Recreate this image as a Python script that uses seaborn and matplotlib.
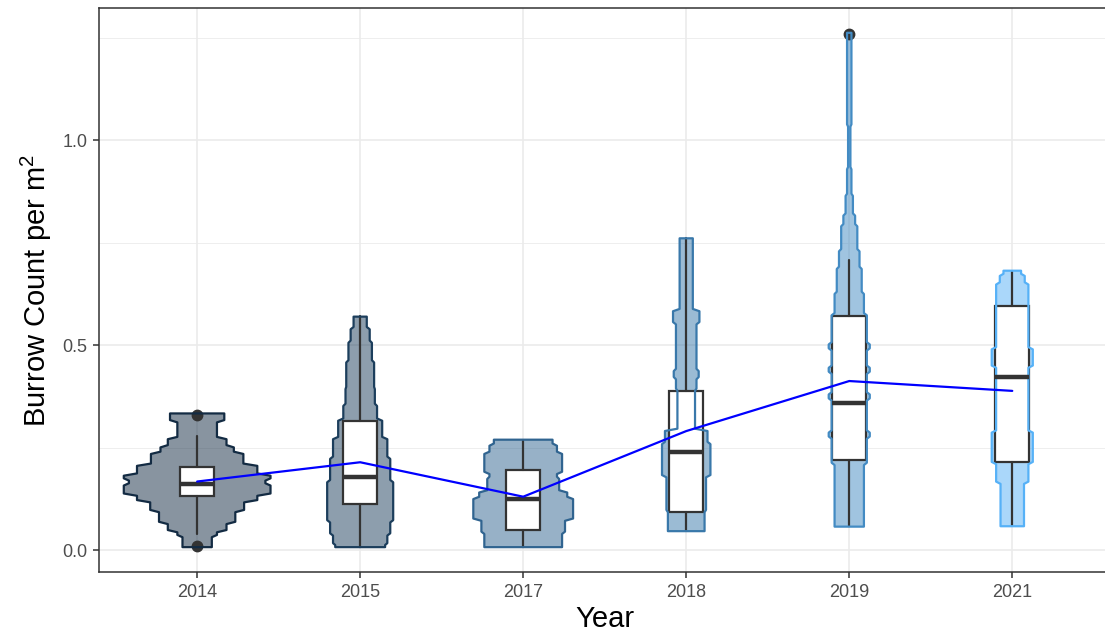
import matplotlib
matplotlib.use("Agg")
import matplotlib.pyplot as plt
from matplotlib.colors import LinearSegmentedColormap
import numpy as np
import seaborn as sns

# categories
years = [2014, 2015, 2017, 2018, 2019, 2021]

# box stats (burrows per m2)
q1 = [0.132, 0.1135, 0.049, 0.094, 0.221, 0.215]
med = [0.161, 0.179, 0.126, 0.240, 0.360, 0.422]
q3 = [0.203, 0.316, 0.197, 0.389, 0.572, 0.596]
whis_lo = [0.039, 0.009, 0.0105, 0.051, 0.059, 0.061]
whis_hi = [0.278, 0.572, 0.268, 0.761, 0.709, 0.680]
outliers = [[0.0105, 0.331], [], [], [], [1.26], []]

# yearly means (blue line)
means = [0.168, 0.215, 0.131, 0.291, 0.413, 0.389]

# violin profiles: bin edges and relative width (1 = widest violin)
edges_2014 = [0.008, 0.035, 0.047, 0.067, 0.096, 0.120, 0.136, 0.161, 0.173, 0.185,
              0.209, 0.238, 0.254, 0.274, 0.315, 0.334]
dens_2014 = [0.20, 0.27, 0.40, 0.52, 0.64, 0.82, 1.0, 0.93, 1.0, 0.82, 0.63, 0.50,
             0.40, 0.27, 0.37]
edges_2015 = [0.008, 0.015, 0.039, 0.071, 0.169, 0.226, 0.274, 0.319, 0.355, 0.396,
              0.461, 0.509, 0.542, 0.570]
dens_2015 = [0.34, 0.37, 0.41, 0.45, 0.41, 0.37, 0.30, 0.23, 0.20, 0.19, 0.16, 0.13, 0.09]
edges_2017 = [0.008, 0.043, 0.075, 0.128, 0.144, 0.177, 0.189, 0.238, 0.258, 0.270]
dens_2017 = [0.53, 0.57, 0.68, 0.60, 0.49, 0.46, 0.53, 0.46, 0.40]
edges_2018 = [0.047, 0.096, 0.181, 0.262, 0.294, 0.392, 0.420, 0.440, 0.554, 0.586, 0.761]
dens_2018 = [0.25, 0.27, 0.33, 0.29, 0.12, 0.14, 0.17, 0.14, 0.18, 0.09]
edges_2019 = [0.058, 0.211, 0.275, 0.290, 0.368, 0.383, 0.433, 0.448, 0.490, 0.505,
              0.576, 0.628, 0.689, 0.732, 0.793, 0.819, 0.867, 0.932, 1.036, 1.262]
dens_2019 = [0.20, 0.24, 0.28, 0.24, 0.28, 0.24, 0.28, 0.24, 0.28, 0.24, 0.20, 0.17,
             0.14, 0.11, 0.08, 0.05, 0.03, 0.016, 0.03]
edges_2021 = [0.059, 0.165, 0.213, 0.290, 0.448, 0.493, 0.651, 0.672, 0.682]
dens_2021 = [0.16, 0.22, 0.28, 0.22, 0.28, 0.22, 0.17, 0.12]

profiles = [(edges_2014, dens_2014), (edges_2015, dens_2015), (edges_2017, dens_2017),
            (edges_2018, dens_2018), (edges_2019, dens_2019), (edges_2021, dens_2021)]

sns.set_theme(style="ticks")
plt.rcParams['font.family'] = ['Liberation Sans', 'DejaVu Sans']
plt.rcParams['mathtext.default'] = 'regular'

fig = plt.figure(figsize=(11.05, 6.39), dpi=100)
ax = fig.add_axes([0.0899, 0.1049, 0.9147, 0.8826])

cmap = LinearSegmentedColormap.from_list("ggblue", ["#132B43", "#56B1F7"])
pos = np.arange(len(years))

# violins (steps softened a little, like a narrow density)
for i, (e, d) in enumerate(profiles):
    col = cmap((years[i] - years[0]) / (years[-1] - years[0]))
    ys, ws = [], []
    n = len(d)
    for j, w in enumerate(d):
        t = min(0.0028, (e[j + 1] - e[j]) / 4)
        lo = e[j] if j == 0 else e[j] + t
        hi = e[j + 1] if j == n - 1 else e[j + 1] - t
        ys += [lo, hi]
        ws += [w, w]
    ys = np.array(ys)
    ws = np.array(ws) * 0.45
    xs = np.concatenate([pos[i] + ws, (pos[i] - ws)[::-1]])
    yy = np.concatenate([ys, ys[::-1]])
    ax.fill(xs, yy, facecolor=col, alpha=0.5, zorder=2, lw=0)
    ax.fill(xs, yy, facecolor='none', edgecolor=col, lw=1.6, joinstyle='round', zorder=2.1)

# boxes
stats = []
for i in range(len(years)):
    stats.append(dict(q1=q1[i], med=med[i], q3=q3[i], whislo=whis_lo[i],
                      whishi=whis_hi[i], fliers=outliers[i]))
ax.bxp(stats, positions=pos, widths=0.21, patch_artist=True, showcaps=False,
       manage_ticks=False,
       boxprops=dict(facecolor='white', edgecolor='#333333', lw=1.6),
       medianprops=dict(color='#333333', lw=3.2, solid_capstyle='butt'),
       whiskerprops=dict(color='#333333', lw=1.6),
       flierprops=dict(marker='o', markerfacecolor='#333333', markeredgecolor='#333333',
                       markersize=7.5))

# mean line
sns.lineplot(x=pos, y=means, color='blue', lw=1.6, ax=ax, zorder=5)

ax.set_xlim(-0.6, 5.6)
ax.set_ylim(-0.0525, 1.3225)
ax.set_xticks(pos)
ax.set_xticklabels([str(y) for y in years])
ax.set_yticks([0.0, 0.5, 1.0])
ax.set_yticklabels(['0.0', '0.5', '1.0'])
ax.set_yticks([0.25, 0.75, 1.25], minor=True)
ax.grid(which='major', color='#EBEBEB', lw=1.2)
ax.grid(which='minor', axis='y', color='#EBEBEB', lw=0.6)
ax.set_axisbelow(True)
ax.tick_params(which='major', length=4.5, width=1.1, color='#333333',
               labelcolor='#4D4D4D', labelsize=13, pad=4)
ax.tick_params(which='minor', length=0)
for s in ax.spines.values():
    s.set_visible(True)
    s.set_color('#333333')
    s.set_linewidth(1.1)

ax.set_xlabel('Year', fontsize=21, color='black', labelpad=3)
ax.set_ylabel('Burrow Count per m$^2$', fontsize=21, color='black', labelpad=6)

fig.savefig('out.png', dpi=100)
